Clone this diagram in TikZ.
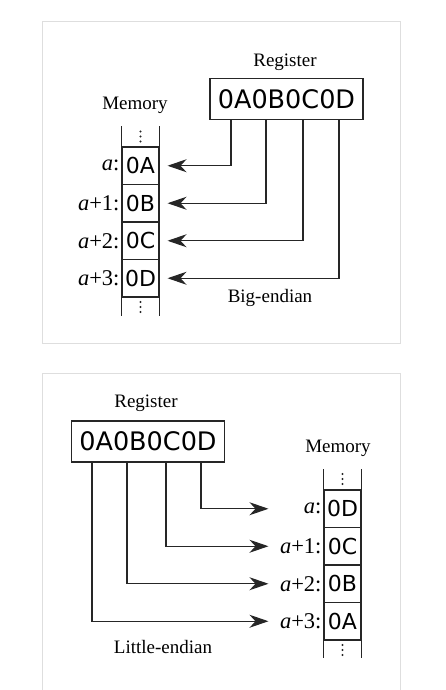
\documentclass[tikz,border=0pt]{standalone}
\usepackage{fontspec}
\setmainfont{Liberation Serif}
\newfontfamily\hexfont{DejaVu Sans}
\usetikzlibrary{arrows.meta}

\tikzset{
    cell/.style={draw, minimum width=37pt, minimum height=37.5pt, inner sep=0pt,
        font=\hexfont\fontsize{22}{26}\selectfont},
    regbox/.style={draw, minimum width=153pt, minimum height=41pt, inner sep=0pt,
        font=\hexfont\fontsize{25.5}{30}\selectfont},
    caption/.style={inner sep=0pt, font=\fontsize{19}{22}\selectfont},
    addr/.style={anchor=east, inner sep=0pt, font=\fontsize{22.5}{26}\selectfont},
    frame/.style={draw=black!13, line width=1pt},
    wire/.style={->},
}

\begin{document}
\begin{tikzpicture}[x=1pt, y=-1pt, line width=1.1pt, draw=black!85,
        >={Stealth[length=19pt,width=13pt,inset=6pt]}]
    \useasboundingbox (0,0) rectangle (446,690);

    % big-endian
    \draw[frame] (42,22) rectangle (400,343);

    \node[caption] (regTitleBig) at (285,62) {Register};
    \node[regbox] (regBig) at (286.5,99) {0A0B0C0D};
    \node[caption] (memTitleBig) at (135,105) {Memory};

    \node[cell] (bigA) at (140.5,165.75) {0A};
    \node[cell] (bigB) at (140.5,203.25) {0B};
    \node[cell] (bigC) at (140.5,240.75) {0C};
    \node[cell] (bigD) at (140.5,278.25) {0D};

    \node[addr] (bigLblA) at (120,165.75) {\textit{a}:};
    \node[addr] (bigLblB) at (120,203.25) {\textit{a}+1:};
    \node[addr] (bigLblC) at (120,240.75) {\textit{a}+2:};
    \node[addr] (bigLblD) at (120,278.25) {\textit{a}+3:};

    \draw (bigA.north west) -- ++(0,-20);
    \draw (bigA.north east) -- ++(0,-20);
    \draw (bigD.south west) -- ++(0,18);
    \draw (bigD.south east) -- ++(0,18);
    \foreach \y in {131.5,136.5,141.5,302,307,312}
        \fill[black!85] (140.5,\y) circle (1.1pt);

    \coordinate (bigTapA) at (231,119.5);
    \coordinate (bigTapB) at (266,119.5);
    \coordinate (bigTapC) at (303,119.5);
    \coordinate (bigTapD) at (339,119.5);

    \draw[wire, shorten >=8pt] (bigTapA) |- (bigA);
    \draw[wire, shorten >=8pt] (bigTapB) |- (bigB);
    \draw[wire, shorten >=8pt] (bigTapC) |- (bigC);
    \draw[wire, shorten >=8pt] (bigTapD) |- (bigD);

    \node[caption] (bigName) at (270,298) {Big-endian};

    % little-endian
    \draw[frame] (42,690) -- (42,373) -- (400,373) -- (400,690);

    \node[caption] (regTitleLit) at (146,403) {Register};
    \node[regbox] (regLit) at (148,441.5) {0A0B0C0D};
    \node[caption] (memTitleLit) at (338,448) {Memory};

    \node[cell] (litA) at (342.5,508.75) {0D};
    \node[cell] (litB) at (342.5,546.25) {0C};
    \node[cell] (litC) at (342.5,583.75) {0B};
    \node[cell] (litD) at (342.5,621.25) {0A};

    \node[addr] (litLblA) at (322,508.75) {\textit{a}:};
    \node[addr] (litLblB) at (322,546.25) {\textit{a}+1:};
    \node[addr] (litLblC) at (322,583.75) {\textit{a}+2:};
    \node[addr] (litLblD) at (322,621.25) {\textit{a}+3:};

    \draw (litA.north west) -- ++(0,-20);
    \draw (litA.north east) -- ++(0,-20);
    \draw (litD.south west) -- ++(0,17);
    \draw (litD.south east) -- ++(0,17);
    \foreach \y in {474,479,484,645,650,655}
        \fill[black!85] (342.5,\y) circle (1.1pt);

    \coordinate (litTapA) at (201,462);
    \coordinate (litTapB) at (166,462);
    \coordinate (litTapC) at (127,462);
    \coordinate (litTapD) at (92,462);

    \draw[wire, shorten >=55pt] (litTapA) |- (litA);
    \draw[wire, shorten >=55pt] (litTapB) |- (litB);
    \draw[wire, shorten >=55pt] (litTapC) |- (litC);
    \draw[wire, shorten >=55pt] (litTapD) |- (litD);

    \node[caption] (litName) at (163,647) {Little-endian};
\end{tikzpicture}
\end{document}
